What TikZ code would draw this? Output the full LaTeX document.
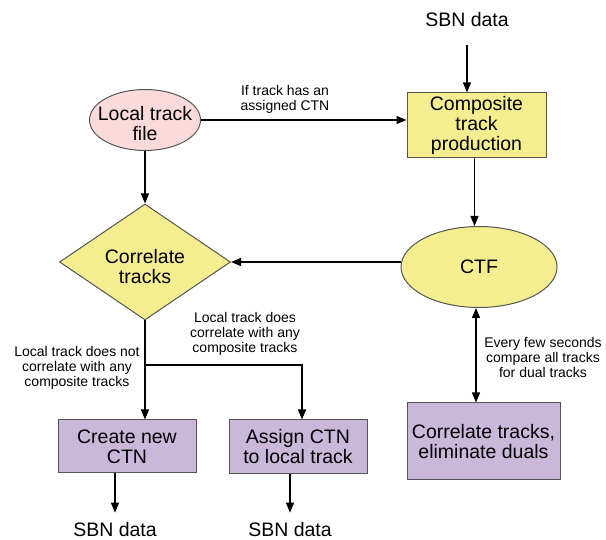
\documentclass[tikz,border=0pt]{standalone}
\usepackage{fontspec}
\setmainfont{Liberation Sans}
\usetikzlibrary{shapes.geometric,arrows.meta}
\definecolor{pinkfill}{HTML}{FADADA}
\definecolor{yelfill}{HTML}{F4EE90}
\definecolor{purfill}{HTML}{CAB8DA}
\definecolor{edgegray}{HTML}{555555}
\tikzset{
  big/.style={font=\fontsize{19.5}{20}\selectfont, align=center},
  small/.style={font=\fontsize{14}{15}\selectfont, align=center, inner sep=0pt},
  shapeedge/.style={draw=edgegray, line width=1pt},
  ybox/.style={shapeedge, fill=yelfill, rectangle, inner sep=0pt, big},
  pbox/.style={shapeedge, fill=purfill, rectangle, inner sep=0pt, big},
  arr/.style={line width=1.3pt, -{Triangle[length=10pt,width=8pt]}},
  darr/.style={line width=1.3pt, {Triangle[length=10pt,width=8pt]}-{Triangle[length=10pt,width=8pt]}},
}
\begin{document}
\begin{tikzpicture}[x=1pt,y=-1pt]
\useasboundingbox (0,0) rectangle (606,540);
% nodes
\node[big, inner sep=0pt] (sbn1) at (467,20) {SBN data};
\node[ybox, minimum width=139pt, minimum height=65pt] (comp) at (476.5,125.5) {Composite\\track\\production};
\node[shapeedge, fill=pinkfill, ellipse, inner sep=0pt, minimum width=111pt, minimum height=61pt,
      label={[big, yshift=-4pt]center:Local track\\file}] (local) at (145,120) {};
\node[shapeedge, fill=yelfill, diamond, inner sep=0pt, minimum width=171pt, minimum height=116pt,
      label={[big, yshift=-5pt]center:Correlate\\tracks}] (dia) at (145,262) {};
\node[shapeedge, fill=yelfill, ellipse, inner sep=0pt, minimum width=156pt, minimum height=81pt,
      label={[big]center:CTF}] (ctf) at (479,267) {};
\node[pbox, minimum width=153pt, minimum height=77pt] (corr) at (483.5,441.5) {Correlate tracks,\\eliminate duals};
\node[pbox, minimum width=138pt, minimum height=53pt] (create) at (127,446.5) {Create new\\CTN};
\node[pbox, minimum width=138pt, minimum height=54pt] (assign) at (298,447) {Assign CTN\\to local track};
\node[big, inner sep=0pt] (sbn2) at (115,530) {SBN data};
\node[big, inner sep=0pt] (sbn3) at (290,530) {SBN data};
% labels
\node[small] (lab1) at (285,99.5) {If track has an\\assigned CTN};
\node[small] (lab2) at (543,357) {Every few seconds\\compare all tracks\\for dual tracks};
\node[small] (lab3) at (77,368) {Local track does not\\correlate with any\\composite tracks};
\node[small] (lab4) at (245,334) {Local track does\\correlate with any\\composite tracks};
% connectors
\draw[arr] ([yshift=-18pt]sbn1.south) -- (sbn1.south |- comp.north);
\draw[arr] (local.east) -- (local.east -| comp.west);
\draw[arr] (local.south) -- (dia.north);
\draw[arr] ([xshift=-2pt]comp.south) -- ([xshift=-2pt]comp.south |- ctf.north);
\draw[arr] (ctf.west |- dia.east) -- (dia.east);
\draw[darr] ([xshift=-3pt]ctf.south) -- ([xshift=-3pt]ctf.south |- corr.north);
\coordinate (br) at (dia.south |- 0,365);
\draw[arr] (dia.south) -- (dia.south |- create.north);
\draw[arr] (br) -| ([xshift=4pt]assign.north);
\draw[arr] (sbn2.north |- create.south) -- ([yshift=10pt]sbn2.north);
\draw[arr] (sbn3.north |- assign.south) -- ([yshift=10pt]sbn3.north);
\end{tikzpicture}
\end{document}
